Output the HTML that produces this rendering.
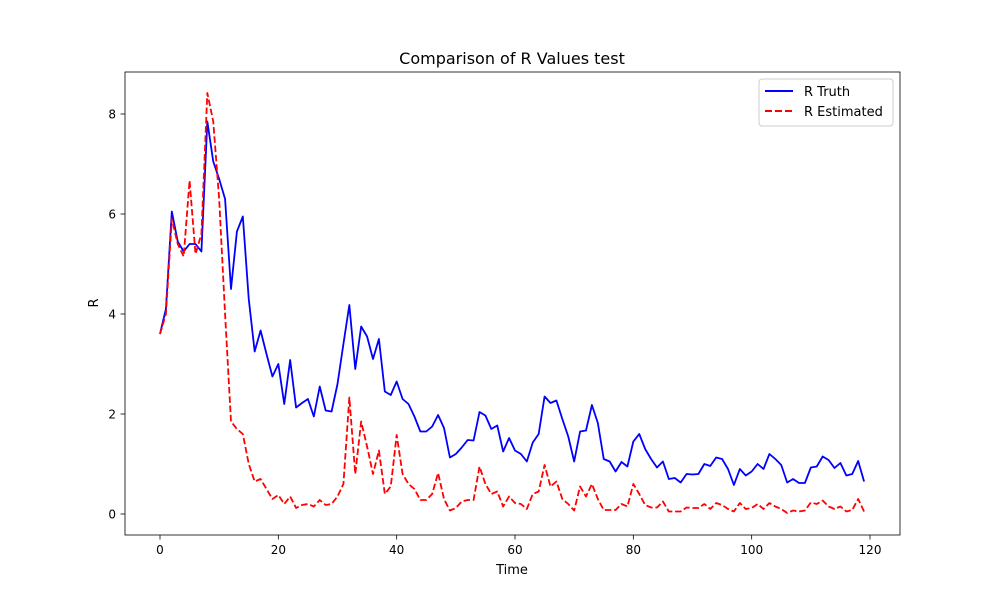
<!DOCTYPE html>
<html><head><meta charset="utf-8"><style>
body{margin:0;background:#fff;font-family:"Liberation Sans","DejaVu Sans",sans-serif}
svg text{font-family:"DejaVu Sans","Liberation Sans",sans-serif}
</style></head><body>
<svg id="chart" width="1000" height="600">
<rect width="1000" height="600" fill="#fff"/>
<text x="512" y="64" font-size="16" text-anchor="middle">Comparison of R Values test</text>
<g id="axes"></g>
<text x="512" y="574" font-size="13" text-anchor="middle">Time</text>
<text transform="translate(98,303) rotate(-90)" font-size="13" text-anchor="middle">R</text>
<g>
<rect x="759" y="79" width="134" height="47" fill="#fff" stroke="#ccc" rx="3"/>
<g><line x1="765" y1="91" x2="793" y2="91" stroke="#0000ff" stroke-width="2"/><text x="804" y="96" font-size="13">R Truth</text></g>
<g><line x1="765" y1="111" x2="793" y2="111" stroke="#ff0000" stroke-width="2" stroke-dasharray="7,3"/><text x="804" y="116" font-size="13">R Estimated</text></g>
</g>
</svg>
<script>
const truth=[3.6,4.1,6.05,5.45,5.25,5.4,5.4,5.25,7.85,7.05,6.7,6.3,4.5,5.65,5.95,4.3,3.25,3.67,3.2,2.75,3.0,2.2,3.08,2.13,2.22,2.3,1.95,2.55,2.07,2.05,2.6,3.4,4.18,2.9,3.75,3.55,3.1,3.5,2.45,2.38,2.65,2.3,2.2,1.95,1.65,1.65,1.75,1.98,1.72,1.13,1.2,1.33,1.48,1.47,2.04,1.97,1.7,1.77,1.25,1.52,1.27,1.2,1.05,1.43,1.6,2.35,2.22,2.27,1.9,1.55,1.05,1.65,1.67,2.18,1.82,1.1,1.05,0.85,1.04,0.95,1.45,1.6,1.3,1.1,0.93,1.05,0.7,0.72,0.63,0.8,0.79,0.8,1.0,0.96,1.13,1.1,0.9,0.58,0.9,0.77,0.85,1.0,0.9,1.2,1.1,0.98,0.63,0.7,0.62,0.62,0.93,0.95,1.15,1.08,0.92,1.02,0.77,0.8,1.06,0.65];
const estimated=[3.6,4.0,5.9,5.4,5.15,6.67,5.2,5.6,8.42,7.85,6.3,4.0,1.85,1.7,1.6,1.0,0.65,0.7,0.5,0.3,0.38,0.2,0.35,0.12,0.18,0.2,0.15,0.28,0.18,0.2,0.35,0.6,2.33,0.8,1.85,1.35,0.8,1.27,0.4,0.55,1.58,0.8,0.6,0.5,0.28,0.28,0.4,0.82,0.3,0.07,0.12,0.25,0.28,0.28,0.95,0.6,0.4,0.45,0.15,0.35,0.22,0.2,0.1,0.4,0.45,0.98,0.55,0.65,0.3,0.2,0.07,0.55,0.35,0.6,0.3,0.08,0.08,0.08,0.2,0.15,0.6,0.4,0.18,0.13,0.13,0.25,0.05,0.05,0.05,0.13,0.12,0.12,0.2,0.1,0.22,0.18,0.1,0.05,0.22,0.1,0.12,0.2,0.1,0.22,0.15,0.1,0.02,0.07,0.05,0.07,0.23,0.2,0.27,0.15,0.1,0.15,0.05,0.08,0.3,0.05];
const xTicks=[0,20,40,60,80,100,120];
const yTicks=[0,2,4,6,8];
const NS='http://www.w3.org/2000/svg';
const X=v=>160+v*(710/120);
const Y=v=>514-v*50;
const g=document.getElementById('axes');
function mk(t,a){const e=document.createElementNS(NS,t);for(const k in a)e.setAttribute(k,a[k]);g.appendChild(e);return e;}
xTicks.forEach(t=>{
 const l=mk('line',{x1:X(t),x2:X(t),y1:535,y2:539.5,stroke:'#000','stroke-width':0.8});
 
 
 const tx=mk('text',{x:X(t),y:554,'font-size':12,'text-anchor':'middle'});tx.textContent=t;
 
 
});
yTicks.forEach(t=>{
 const l=mk('line',{x1:120.5,x2:125,y1:Y(t),y2:Y(t),stroke:'#000','stroke-width':0.8});
 
 
 const tx=mk('text',{x:116,y:Y(t)+4.5,'font-size':12,'text-anchor':'end'});tx.textContent=t;
 
 
});
function line(arr,color,dash,name){
 const p=mk('polyline',{points:arr.map((v,i)=>X(i)+','+Y(v)).join(' '),fill:'none',stroke:color,'stroke-width':1.8,'stroke-linejoin':'round'});
 if(dash)p.setAttribute('stroke-dasharray',dash);
 
 
}
line(truth,'#0000ff',null,'r-truth-line');
line(estimated,'#ff0000','6.5,2.8','r-estimated-line');
const fr=mk('rect',{x:125,y:72,width:775,height:463,fill:'none',stroke:'#000','stroke-width':0.8});


</script>
</body></html>
